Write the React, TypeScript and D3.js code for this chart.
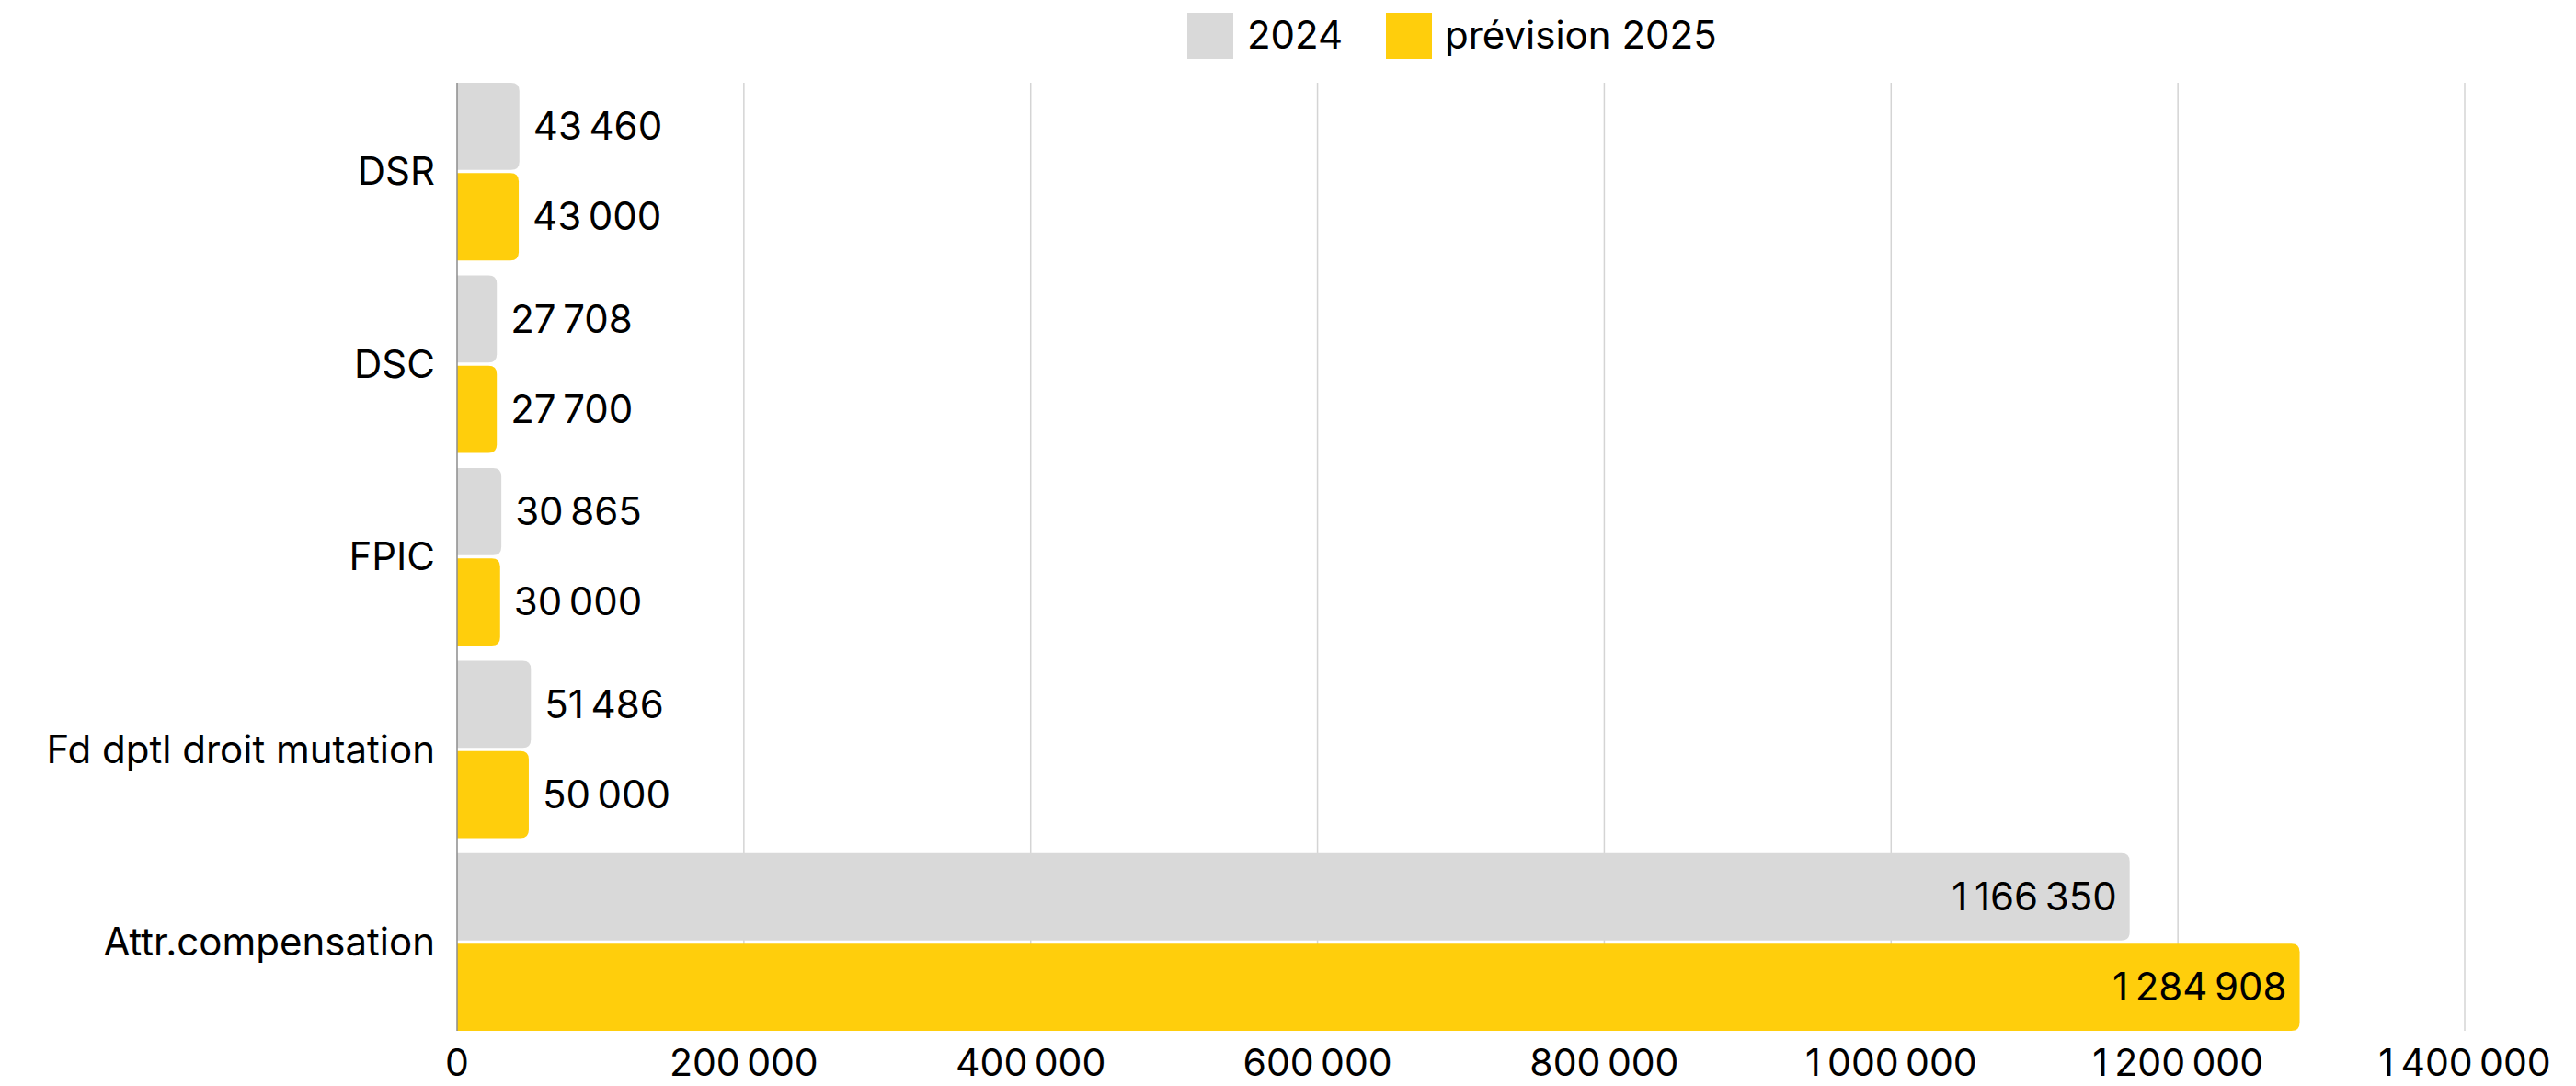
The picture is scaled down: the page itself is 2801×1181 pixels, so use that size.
import React from "react";
import * as d3 from "d3";

const categories = ["DSR", "DSC", "FPIC", "Fd dptl droit mutation", "Attr.compensation"];
const values2024 = [43460, 27708, 30865, 51486, 1166350];
const values2025 = [43000, 27700, 30000, 50000, 1284908];
const seriesNames = ["2024", "prévision 2025"];
const xTicks = [0, 200000, 400000, 600000, 800000, 1000000, 1200000, 1400000];

const W = 2801;
const H = 1181;
const FONT = "Inter, 'Noto Sans', sans-serif";
const COLORS = ["#D9D9D9", "#FFCE0C"];

const fr = d3.formatLocale({ decimal: ",", thousands: "\u2009", grouping: [3], currency: ["", " €"] });
const fmt = fr.format(",d");

function barPath(x0: number, x1: number, y: number, h: number, r: number) {
  const w = x1 - x0;
  const rr = Math.min(r, w / 2, h / 2);
  return `M${x0},${y}H${x1 - rr}Q${x1},${y} ${x1},${y + rr}V${y + h - rr}Q${x1},${y + h} ${x1 - rr},${y + h}H${x0}Z`;
}

export default function App() {
  const x = d3.scaleLinear().domain([0, 1400000]).range([497, 2680]);
  const y = d3.scaleBand<string>().domain(categories).range([90, 1121]).paddingInner(0.078).paddingOuter(0);
  const sub = d3.scaleBand<string>().domain(seriesNames).range([0, y.bandwidth()]).paddingInner(0.035);
  const series = [values2024, values2025];

  return (
    <svg width={W} height={H} style={{ display: "block", background: "#fff" }} fontFamily={FONT}>
      <style>{`body{margin:0}`}</style>
      {/* gridlines */}
      {xTicks.slice(1).map((t) => (
        <line key={t} x1={x(t)} x2={x(t)} y1={90} y2={1121} stroke="#d4d4d4" strokeWidth={1.5} />
      ))}
      {/* bars */}
      {categories.map((c, i) => (
        <g key={c}>
          {series.map((vals, s) => {
            const yy = (y(c) as number) + (sub(seriesNames[s]) as number);
            const h = sub.bandwidth();
            const x1 = x(vals[i]);
            const inside = x1 - x(0) > 400;
            return (
              <g key={s}>
                <path d={barPath(x(0), x1, yy, h, 9)} fill={COLORS[s]} />
                <text
                  x={inside ? x1 - 14 : x1 + 15}
                  y={yy + h / 2}
                  dy="0.35em"
                  textAnchor={inside ? "end" : "start"}
                  fontSize={42}
                  fill="#000"
                >
                  {fmt(vals[i])}
                </text>
              </g>
            );
          })}
          <text x={473} y={(y(c) as number) + y.bandwidth() / 2} dy="0.35em" textAnchor="end" fontSize={42} fill="#000">
            {c}
          </text>
        </g>
      ))}
      {/* axis line */}
      <line x1={x(0)} x2={x(0)} y1={90} y2={1121} stroke="#8c8c8c" strokeWidth={1.5} />
      {/* x tick labels */}
      {xTicks.map((t) => (
        <text key={t} x={x(t)} y={1170} textAnchor="middle" fontSize={41} fill="#000">
          {fmt(t)}
        </text>
      ))}
      {/* legend */}
      <g>
        <rect x={1291} y={14} width={50} height={50} fill={COLORS[0]} />
        <text x={1356} y={53} fontSize={42} fill="#000">{seriesNames[0]}</text>
        <rect x={1507} y={14} width={50} height={50} fill={COLORS[1]} />
        <text x={1571} y={53} fontSize={42} fill="#000">{seriesNames[1]}</text>
      </g>
    </svg>
  );
}
